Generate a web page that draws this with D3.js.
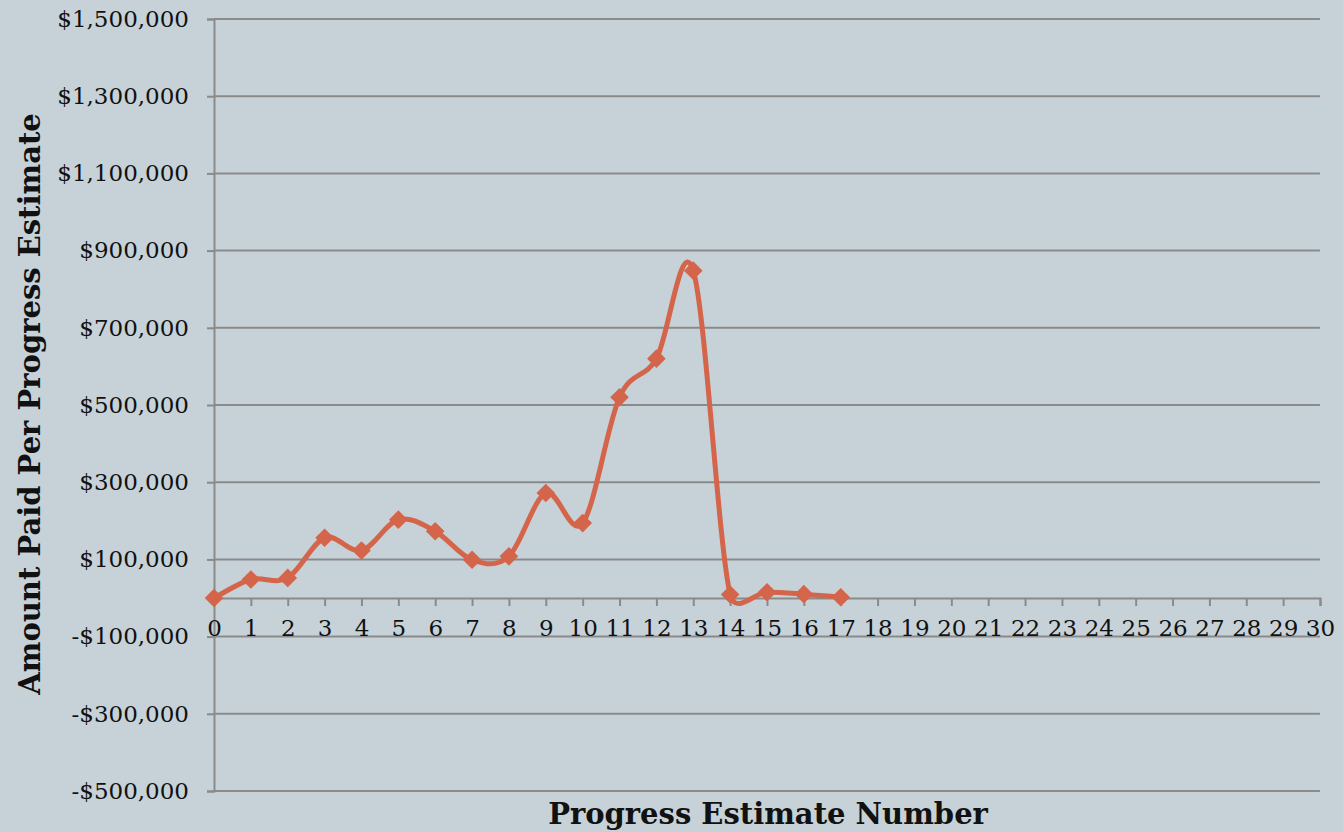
<!DOCTYPE html>
<html lang="en">
<head>
<meta charset="UTF-8">
<title>Amount Paid Per Progress Estimate</title>
<script src="https://d3js.org/d3.v7.min.js"></script>
<style>
  body { margin: 0; background: #c6d2d8; }
  svg { display: block; }
</style>
</head>
<body>
<svg id="chart" width="1343" height="832"></svg>
<script>
// data
const estimateNumbers = d3.range(0, 18);
const amountsPaid = [0, 48000, 52000, 156000, 123000, 203000, 173000, 99000, 108000,
                     272000, 194000, 520000, 620000, 848000, 9000, 15000, 10000, 2000];
const yTickValues = [-500000, -300000, -100000, 100000, 300000, 500000, 700000, 900000, 1100000, 1300000, 1500000];
const xTickValues = d3.range(0, 31);

const width = 1343, height = 832;
const margin = { top: 19, right: 23, bottom: 41, left: 214 };
const svg = d3.select("#chart");

const x = d3.scaleLinear().domain([0, 30]).range([margin.left, width - margin.right]);
const y = d3.scaleLinear().domain([-500000, 1500000]).range([height - margin.bottom, margin.top]);

const gridColor = "#8a8a8a";
const lineColor = "#d4654a";
const font = "'DejaVu Serif', Georgia, serif";

// spreadsheet-style smoothing: catmull-rom handles, shortened when longer than the segment allows
function smoothCurve(context) {
  let pts;
  return {
    areaStart() {}, areaEnd() {},
    lineStart() { pts = []; },
    point(px, py) { pts.push([+px, +py]); },
    lineEnd() {
      const n = pts.length;
      if (!n) return;
      context.moveTo(pts[0][0], pts[0][1]);
      const clamp = (v, seg) => {
        const len = Math.hypot(v[0], v[1]), max = seg * 0.6;
        return len > max ? [v[0] * max / len, v[1] * max / len] : v;
      };
      for (let i = 0; i < n - 1; i++) {
        const a = pts[Math.max(i - 1, 0)], b = pts[i], c = pts[i + 1], d = pts[Math.min(i + 2, n - 1)];
        const seg = Math.hypot(c[0] - b[0], c[1] - b[1]);
        const v1 = clamp([(c[0] - a[0]) / 6, (c[1] - a[1]) / 6], seg);
        const v2 = clamp([(d[0] - b[0]) / 6, (d[1] - b[1]) / 6], seg);
        context.bezierCurveTo(b[0] + v1[0], b[1] + v1[1], c[0] - v2[0], c[1] - v2[1], c[0], c[1]);
      }
    }
  };
}

// y axis + ticks
const yAxis = d3.axisLeft(y)
  .tickValues(yTickValues)
  .tickSize(7)
  .tickPadding(18)
  .tickFormat(d => (d < 0 ? "-" : "") + "$" + d3.format(",")(Math.abs(d)));

const gy = svg.append("g").attr("transform", `translate(${margin.left},0)`).call(yAxis);
gy.select(".domain").attr("stroke", gridColor).attr("stroke-width", 2);
gy.selectAll(".tick line").attr("stroke", gridColor).attr("stroke-width", 2);
gy.selectAll(".tick text")
  .attr("fill", "#111")
  .style("font-family", font)
  .style("font-size", "23px");

// horizontal gridlines
svg.append("g").selectAll("line")
  .data(yTickValues)
  .join("line")
  .attr("x1", margin.left).attr("x2", width - margin.right)
  .attr("y1", d => y(d)).attr("y2", d => y(d))
  .attr("stroke", gridColor).attr("stroke-width", 2);

// x axis on the zero line
const xAxis = d3.axisBottom(x)
  .tickValues(xTickValues)
  .tickSize(8)
  .tickPadding(14)
  .tickFormat(d3.format("d"));

const gx = svg.append("g").attr("transform", `translate(0,${y(0)})`).call(xAxis);
gx.select(".domain").attr("stroke", gridColor).attr("stroke-width", 2);
gx.selectAll(".tick line").attr("stroke", gridColor).attr("stroke-width", 2);
gx.selectAll(".tick text")
  .attr("fill", "#111")
  .style("font-family", font)
  .style("font-size", "23px");

// smoothed line
const points = estimateNumbers.map((n, i) => [n, amountsPaid[i]]);
const line = d3.line()
  .x(d => x(d[0]))
  .y(d => y(d[1]))
  .curve(smoothCurve);

svg.append("path")
  .datum(points)
  .attr("d", line)
  .attr("fill", "none")
  .attr("stroke", lineColor)
  .attr("stroke-width", 5);

// diamond markers
svg.append("g").selectAll("path")
  .data(points)
  .join("path")
  .attr("transform", d => `translate(${x(d[0])},${y(d[1])}) rotate(45)`)
  .attr("d", "M-6.6,-6.6H6.6V6.6H-6.6Z")
  .attr("fill", lineColor);

// axis titles
svg.append("text")
  .attr("x", 768).attr("y", 824)
  .attr("text-anchor", "middle")
  .style("font-family", font)
  .style("font-weight", "bold")
  .style("font-size", "29px")
  .attr("fill", "#111")
  .text("Progress Estimate Number");

svg.append("text")
  .attr("transform", "translate(40,404) rotate(-90)")
  .attr("text-anchor", "middle")
  .style("font-family", font)
  .style("font-weight", "bold")
  .style("font-size", "29px")
  .attr("fill", "#111")
  .text("Amount Paid Per Progress Estimate");
</script>
</body>
</html>
